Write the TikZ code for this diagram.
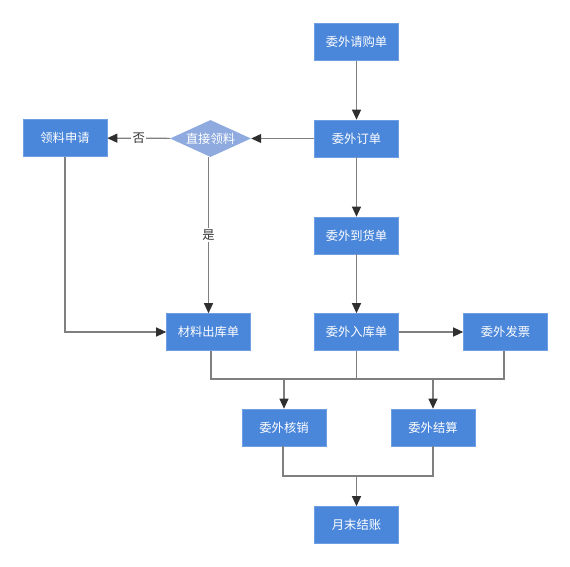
\documentclass[tikz,border=0pt]{standalone}
\usepackage{fontspec}
\newfontfamily\cjk{Noto Sans CJK SC}
\usetikzlibrary{shapes.geometric,arrows.meta}
\definecolor{boxblue}{HTML}{4A86DA}
\definecolor{boxedge}{HTML}{6E9FE3}
\definecolor{diablue}{HTML}{8EAADE}
\definecolor{linegray}{HTML}{7F7F7F}
\definecolor{tipgray}{HTML}{2F2F2F}
\tikzset{
  procbox/.style={rectangle, fill=boxblue, draw=boxedge, line width=0.6pt,
    minimum width=84pt, minimum height=37pt, inner sep=0pt,
    text=white, font=\cjk\fontsize{12.3}{13}\selectfont},
  decbox/.style={diamond, fill=diablue, draw=none, aspect=2.2,
    minimum width=81pt, minimum height=37pt, inner sep=0pt,
    text=white, font=\cjk\fontsize{12.3}{13}\selectfont},
  conn/.style={draw=linegray, line width=1.2pt},
  arr/.style={conn, -{Triangle[length=10pt,width=9pt,fill=tipgray,color=tipgray]}},
  lbl/.style={fill=white, inner sep=1.5pt, text=black!80, font=\cjk\fontsize{12.3}{13}\selectfont}
}
\begin{document}
\begin{tikzpicture}[x=1pt,y=-1pt]
\useasboundingbox (0,0) rectangle (570,567);
\node[procbox] (qg) at (356.5,42) {委外请购单};
\node[procbox] (dd) at (356.5,138.5) {委外订单};
\node[decbox] (zj) at (210.5,138.5) {直接领料};
\node[procbox] (ll) at (65,138) {领料申请};
\node[procbox] (dh) at (356.5,235.5) {委外到货单};
\node[procbox] (ck) at (208.5,332) {材料出库单};
\node[procbox] (rk) at (356.5,332) {委外入库单};
\node[procbox] (fp) at (505.5,332) {委外发票};
\node[procbox] (hx) at (284,427.5) {委外核销};
\node[procbox] (js) at (433,427.5) {委外结算};
\node[procbox] (yj) at (356.5,525) {月末结账};

\coordinate (m1) at (211,379);
\coordinate (m2) at (504,379);
\coordinate (m3) at (283,476);
\coordinate (m4) at (433,476);

\draw[arr] (qg) -- (dd);
\draw[arr] (dd) -- (zj);
\draw[arr] (zj) -- node[lbl]{否} (ll);
\draw[arr] (zj.south -| ck.north) -- node[lbl, pos=0.5]{是} (ck.north);
\draw[arr] (dd) -- (dh);
\draw[arr] (dh) -- (rk);
\draw[arr] (ll.south) |- (ck.west);
\draw[arr] (rk) -- (fp);
\draw[conn] (ck.south -| m1) -- (m1) -- (m2) -- (fp.south -| m2);
\draw[conn] (rk.south) -- (rk.south |- m1);
\draw[arr] (hx.north |- m1) -- (hx.north);
\draw[arr] (js.north |- m1) -- (js.north);
\draw[conn] (hx.south -| m3) -- (m3) -- (m4) -- (js.south -| m4);
\draw[arr] (yj.north |- m3) -- (yj.north);
\end{tikzpicture}
\end{document}
